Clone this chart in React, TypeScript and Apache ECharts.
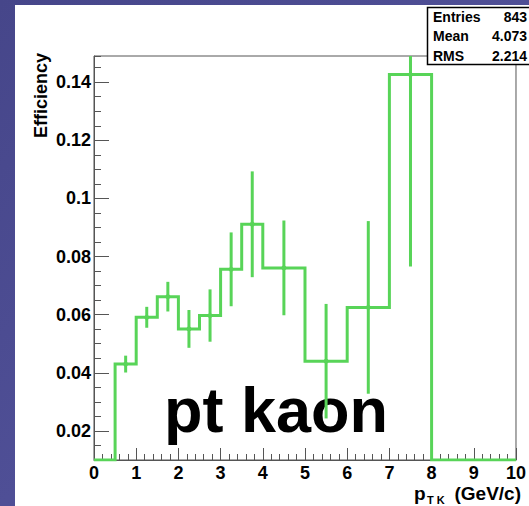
import React, { useEffect, useRef } from "react";
import * as echarts from "echarts";

// Variable-width binning of the kaon pT histogram (GeV/c)
const BIN_EDGES = [0, 0.5, 1, 1.5, 2, 2.5, 3, 3.5, 4, 5, 6, 7, 8, 9, 10];
// Efficiency per bin and its statistical error
const EFFICIENCY = [0, 0.043, 0.0591, 0.0662, 0.0551, 0.0597, 0.0756, 0.0911, 0.0761, 0.044, 0.0625, 0.1426, 0, 0];
const EFF_ERROR = [0, 0.0029, 0.0036, 0.0051, 0.0065, 0.009, 0.0127, 0.0182, 0.0163, 0.0197, 0.0297, 0.066, 0, 0];
// Axis ranges and labelled ticks
const X_RANGE = [0, 10];
const Y_RANGE = [0.01, 0.149];
const Y_MAJOR_TICKS = [0.02, 0.04, 0.06, 0.08, 0.1, 0.12, 0.14];
// Statistics box
const STAT_NAMES = ["Entries", "Mean", "RMS"];
const STAT_VALUES = ["843", "4.073", "2.214"];

const GREEN = "#58d458";
const FONT = "'Liberation Sans', Arial, Helvetica, sans-serif";
const AXIS_COLOR = "#555555";

export default function App() {
  const ref = useRef<HTMLDivElement>(null);

  useEffect(() => {
    if (!ref.current) return;
    const chart = echarts.init(ref.current, null, { renderer: "svg" });

    // Step outline: each bin contributes its left and right edge at its height;
    // empty bins sit on the lower frame edge.
    const stepPoints: number[][] = [];
    EFFICIENCY.forEach((v, i) => {
      const y = Math.max(v, Y_RANGE[0]);
      stepPoints.push([BIN_EDGES[i], y]);
      stepPoints.push([BIN_EDGES[i + 1], y]);
    });

    const errorPoints = EFFICIENCY.map((v, i) => [
      (BIN_EDGES[i] + BIN_EDGES[i + 1]) / 2,
      v,
      EFF_ERROR[i],
    ]).filter((d) => d[2] > 0);

    const statTexts: any[] = [];
    STAT_NAMES.forEach((name, i) => {
      const cy = 16.5 + i * 19.5;
      statTexts.push({
        type: "text",
        z: 101,
        x: 433,
        y: cy,
        style: { text: name, font: `bold 14px ${FONT}`, fill: "#000", align: "left", verticalAlign: "middle" },
      });
      statTexts.push({
        type: "text",
        z: 101,
        x: 527,
        y: cy,
        style: { text: STAT_VALUES[i], font: `bold 14px ${FONT}`, fill: "#000", align: "right", verticalAlign: "middle" },
      });
    });

    const option: any = {
      animation: false,
      grid: {
        left: 94,
        top: 56,
        right: 12,
        bottom: 46,
        show: true,
        borderColor: AXIS_COLOR,
        borderWidth: 1,
        backgroundColor: "transparent",
        containLabel: false,
      },
      graphic: [
        {
          type: "rect",
          z: -20,
          shape: { x: 0, y: 0, width: 529, height: 506 },
          style: {
            fill: {
              type: "linear",
              x: 0,
              y: 0,
              x2: 1,
              y2: 1,
              colorStops: [
                { offset: 0, color: "#46468a" },
                { offset: 0.5, color: "#4f4f96" },
                { offset: 1, color: "#4a4a8c" },
              ],
            },
          },
        },
        {
          type: "rect",
          z: -19,
          shape: { x: 15, y: 5, width: 514, height: 501 },
          style: { fill: "#ffffff" },
        },
        // y axis title
        {
          type: "text",
          x: 41,
          y: 53,
          rotation: Math.PI / 2,
          style: { text: "Efficiency", font: `bold 18px ${FONT}`, fill: "#000", align: "right", verticalAlign: "middle" },
        },
        // x axis title: p_{T K} (GeV/c)
        {
          type: "text",
          x: 521,
          y: 493,
          style: { text: "(GeV/c)", font: `bold 19px ${FONT}`, fill: "#000", align: "right", verticalAlign: "middle" },
        },
        {
          type: "text",
          x: 414,
          y: 493,
          style: { text: "p", font: `bold 19px ${FONT}`, fill: "#000", align: "left", verticalAlign: "middle" },
        },
        {
          type: "text",
          x: 427,
          y: 500,
          style: { text: "T K", font: `bold 11px ${FONT}`, fill: "#000", align: "left", verticalAlign: "middle" },
        },
        // histogram caption, drawn beneath the histogram lines
        {
          type: "text",
          z: 0,
          x: 164,
          y: 410,
          style: { text: "pt kaon", font: `bold 63px ${FONT}`, fill: "#000", align: "left", verticalAlign: "middle" },
        },
        // statistics box
        {
          type: "rect",
          z: 100,
          shape: { x: 427.5, y: 7.5, width: 120, height: 57 },
          style: { fill: "#ffffff", stroke: "#000", lineWidth: 1.5 },
        },
        ...statTexts,
      ],
      xAxis: {
        type: "value",
        min: X_RANGE[0],
        max: X_RANGE[1],
        interval: 1,
        axisLine: { show: true, onZero: false, lineStyle: { color: AXIS_COLOR, width: 1 } },
        axisTick: { show: true, inside: true, length: 12, lineStyle: { color: AXIS_COLOR, width: 1 } },
        minorTick: { show: true, splitNumber: 5, length: 6, lineStyle: { color: AXIS_COLOR, width: 1 } },
        splitLine: { show: false },
        axisLabel: {
          margin: 4,
          color: "#000",
          fontSize: 18,
          lineHeight: 18,
          fontWeight: "bold",
          fontFamily: FONT,
        },
      },
      yAxis: [
        {
          type: "value",
          min: Y_RANGE[0],
          max: Y_RANGE[1],
          interval: 0.005,
          axisLine: { show: true, onZero: false, lineStyle: { color: AXIS_COLOR, width: 1 } },
          axisTick: { show: true, inside: true, length: 7, lineStyle: { color: AXIS_COLOR, width: 1 } },
          splitLine: { show: false },
          axisLabel: { show: false },
        },
        {
          type: "value",
          position: "left",
          min: Y_RANGE[0],
          max: Y_RANGE[1],
          axisLine: { show: false },
          axisTick: {
            show: true,
            inside: true,
            length: 15,
            customValues: Y_MAJOR_TICKS,
            lineStyle: { color: AXIS_COLOR, width: 1 },
          },
          splitLine: { show: false },
          axisLabel: {
            show: true,
            customValues: Y_MAJOR_TICKS,
            margin: 3,
            color: "#000",
            fontSize: 18,
            fontWeight: "bold",
            fontFamily: FONT,
            formatter: (v: number) => String(Math.round(v * 100) / 100),
          },
        },
      ],
      series: [
        {
          type: "line",
          data: stepPoints,
          symbol: "none",
          clip: true,
          lineStyle: { color: GREEN, width: 3, join: "miter", cap: "butt" },
          z: 5,
        },
        {
          type: "custom",
          clip: true,
          z: 6,
          data: errorPoints,
          renderItem: (params: any, api: any) => {
            const x = api.value(0);
            const v = api.value(1);
            const e = api.value(2);
            const c = api.coord([x, v]);
            const top = api.coord([x, v + e]);
            const bot = api.coord([x, v - e]);
            return {
              type: "group",
              children: [
                {
                  type: "line",
                  shape: { x1: c[0], y1: top[1], x2: c[0], y2: bot[1] },
                  style: { stroke: GREEN, lineWidth: 3 },
                },
                {
                  type: "circle",
                  shape: { cx: c[0], cy: c[1], r: 2.5 },
                  style: { fill: GREEN },
                },
              ],
            };
          },
        },
      ],
    };

    chart.setOption(option);
    return () => chart.dispose();
  }, []);

  return (
    <div
      ref={ref}
      style={{ position: "absolute", left: 0, top: 0, width: 529, height: 506 }}
    />
  );
}
